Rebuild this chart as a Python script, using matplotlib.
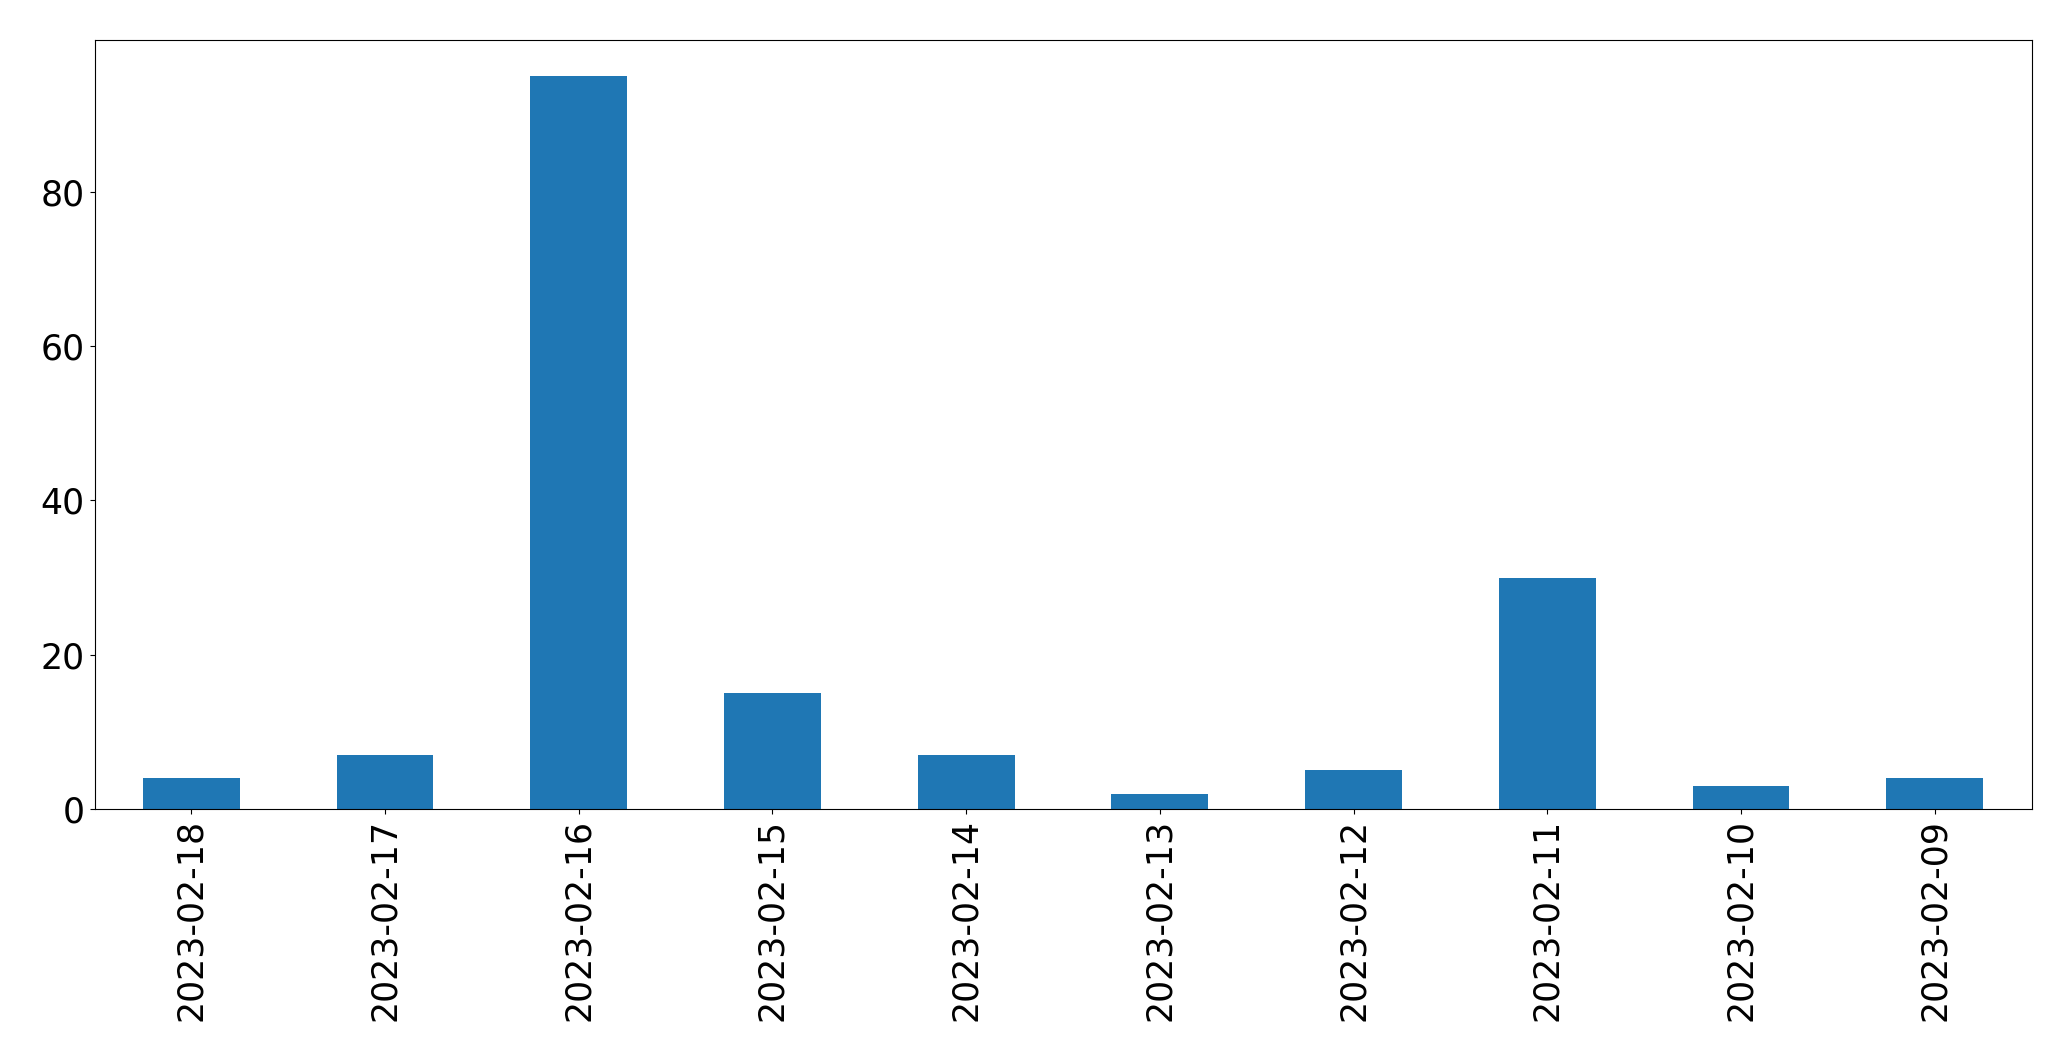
import pandas as pd
import matplotlib
matplotlib.use("Agg")
import matplotlib.pyplot as plt

dates = ["2023-02-18", "2023-02-17", "2023-02-16", "2023-02-15", "2023-02-14",
         "2023-02-13", "2023-02-12", "2023-02-11", "2023-02-10", "2023-02-09"]
counts = [4, 7, 95, 15, 7, 2, 5, 30, 3, 4]

s = pd.Series(counts, index=dates)

fig, ax = plt.subplots(figsize=(20.71, 10.61), dpi=100)
s.plot(kind="bar", ax=ax, fontsize=25)
fig.subplots_adjust(left=94.5 / 2071, right=2031.5 / 2071,
                    top=1 - 39.5 / 1061, bottom=1 - 809 / 1061)
fig.savefig("out.png", dpi=100)
